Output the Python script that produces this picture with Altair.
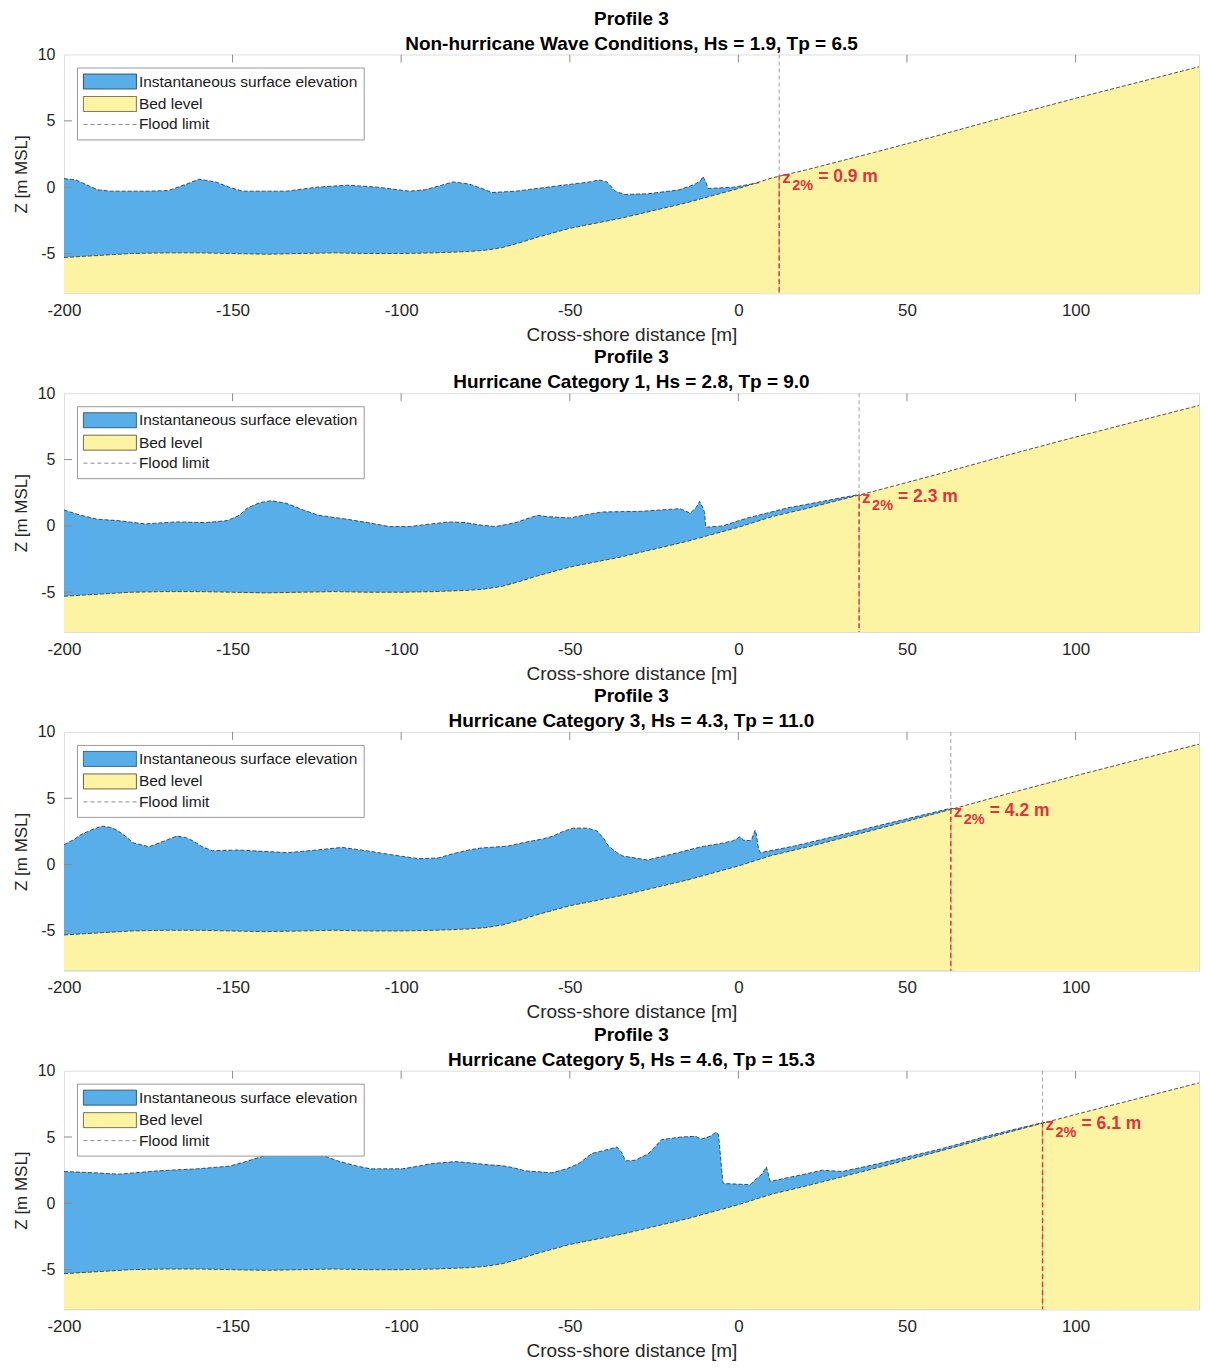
import altair as alt
import pandas as pd

FONT = "Liberation Sans"
BLUE = "#58aee9"
YELLOW = "#fcf4a3"
RED = "#e0353d"
LABEL = "#262626"

X_MIN, X_MAX = -200, 136.6
Y_MIN, Y_MAX = -8, 10
x_ticks = [-200, -150, -100, -50, 0, 50, 100]
y_ticks = [-5, 0, 5, 10]
top_tick_x = [-150, -100, -50, 0, 50, 100]
left_tick_y = [-5, 0, 5]

# bed level profile (same cross-section in every panel)
bed_x = [-200, -190, -180, -170, -160, -150, -140, -130, -120, -110, -100, -90, -80, -75, -70,
         -65, -60, -55, -50, -45, -40, -35, -30, -25, -20, -15, -10, -5, 0, 5, 10, 20, 40, 60,
         80, 100, 120, 140]
bed_z = [-5.3, -5.15, -5.0, -4.95, -4.95, -5.0, -5.05, -5.0, -4.95, -5.0, -5.0, -4.95, -4.85, -4.75,
         -4.55, -4.2, -3.8, -3.45, -3.1, -2.85, -2.6, -2.35, -2.05, -1.75, -1.45, -1.15, -0.8, -0.45,
         -0.1, 0.3, 0.7, 1.3, 2.6, 3.95, 5.35, 6.7, 8.0, 9.3]

# instantaneous surface elevation per panel
s1_x = [-200, -196.5, -190, -186, -175, -169, -164, -160, -155, -151, -147, -134, -125, -116, -107,
        -97.6, -93, -88, -84.6, -80, -76, -73, -66, -52, -44, -41.4, -39, -36.5, -33.7, -26.8,
        -17.6, -13, -11.2, -10.5, -9.5, -9, -1.5, 5.3, 6.5]
s1_z = [0.65, 0.55, -0.2, -0.3, -0.3, -0.25, 0.2, 0.6, 0.4, 0.0, -0.3, -0.3, 0.0, 0.15, 0.0,
        -0.3, -0.2, 0.15, 0.4, 0.25, -0.1, -0.4, -0.3, 0.15, 0.4, 0.55, 0.4, -0.3, -0.55, -0.5,
        -0.2, 0.2, 0.5, 0.8, 0.3, -0.1, 0.0, 0.3, 0.35]

s2_x = [-200, -195, -190, -184, -176, -166.6, -158, -151.5, -148, -145.6, -142, -138.5, -134, -129,
        -124.5, -116, -110, -103.5, -97.6, -91, -86, -81, -76, -72, -66, -62, -59.5, -56.8, -50,
        -45, -40.5, -29, -17.3, -15, -14.3, -12.5, -11.5, -10.6, -10, -9.7, -4.7, 2.7, 14.5, 25,
        30, 35.5, 36.5]
s2_z = [1.2, 0.8, 0.5, 0.4, 0.15, 0.3, 0.25, 0.4, 0.8, 1.35, 1.75, 1.9, 1.7, 1.2,
        0.8, 0.5, 0.25, -0.05, -0.05, 0.15, 0.3, 0.25, 0.05, -0.05, 0.25, 0.6, 0.8, 0.7, 0.6,
        0.85, 1.05, 1.1, 1.3, 1.05, 0.95, 1.4, 1.85, 1.4, 1.0, -0.1, 0.0, 0.6, 1.35, 1.85,
        2.1, 2.35, 2.3]

s3_x = [-200, -197, -194.7, -191, -188.8, -186, -184, -181.5, -179.6, -174.8, -170, -166.6, -164,
        -161.8, -159, -156, -148, -141, -133.7, -125, -117.5, -110.4, -103, -95, -89, -85, -80,
        -76.4, -68.3, -63.9, -57.8, -55, -52, -49, -44.8, -42, -40, -38.5, -36, -34.3, -27, -19.5,
        -11, -5, -1.5, 0.5, 1.5, 3.8, 4.5, 5, 5.4, 5.6, 6.0, 6.5, 16.6, 31.4, 45, 63, 64]
s3_z = [1.5, 1.9, 2.3, 2.7, 2.9, 2.8, 2.55, 2.1, 1.65, 1.35, 1.8, 2.15, 2.05,
        1.8, 1.35, 1.05, 1.1, 1.0, 0.9, 1.1, 1.3, 1.05, 0.75, 0.45, 0.5, 0.8, 1.1,
        1.25, 1.4, 1.65, 1.95, 2.15, 2.5, 2.75, 2.75, 2.55, 2.0, 1.4, 0.9, 0.65, 0.35, 0.8,
        1.35, 1.6, 1.8, 2.1, 1.85, 1.8, 2.3, 2.6, 2.2, 1.8, 1.2, 0.9, 1.4, 2.3, 3.15, 4.25, 4.2]

s4_x = [-200, -190.8, -183.8, -172, -160.5, -151, -146, -141.7, -136, -132.4, -126.6, -122, -118.3,
        -113, -109, -99.7, -95, -90.8, -83.8, -77.5, -74, -70.4, -67, -63.2, -55.3, -51, -47.3,
        -43.5, -40.5, -38, -36, -34.5, -33.5, -30.6, -26.6, -22.8, -16.9, -12.8, -10.9, -8.4, -6.7,
        -5.9, -4.6, -4.4, 3.5, 5.3, 7, 8.3, 8.8, 9.4, 17.75, 25, 30.8, 40, 60, 75, 90.4, 91.5]
s4_z = [2.4, 2.3, 2.2, 2.45, 2.6, 2.8, 3.15, 3.5, 3.8, 3.9, 3.8, 3.5, 3.15,
        2.8, 2.6, 2.6, 2.8, 3.0, 3.15, 3.0, 2.9, 2.85, 2.7, 2.45, 2.3, 2.6, 3.0,
        3.75, 3.95, 4.1, 4.25, 3.8, 3.2, 3.25, 3.75, 4.8, 5.0, 5.05, 4.85, 5.05, 5.35,
        5.2, 1.6, 1.5, 1.4, 1.85, 2.2, 2.75, 2.3, 1.65, 2.1, 2.5, 2.4, 2.9, 4.1, 5.15, 6.1, 6.05]

surf_x = [s1_x, s2_x, s3_x, s4_x]
surf_z = [s1_z, s2_z, s3_z, s4_z]

panel_titles = [
    "Non-hurricane Wave Conditions, Hs = 1.9, Tp = 6.5",
    "Hurricane Category 1, Hs = 2.8, Tp = 9.0",
    "Hurricane Category 3, Hs = 4.3, Tp = 11.0",
    "Hurricane Category 5, Hs = 4.6, Tp = 15.3",
]
profile_title = "Profile 3"
flood_x = [12.1, 35.8, 63.0, 90.2]
flood_z = [0.9, 2.3, 4.2, 6.1]
flood_text = ["= 0.9 m", "= 2.3 m", "= 4.2 m", "= 6.1 m"]
z_symbol = "z"
z_sub = "2%"
legend_labels = ["Instantaneous surface elevation", "Bed level", "Flood limit"]

# legend swatches: 15 px tall, ~53 px wide (symbol size 225 -> unit = 7.5 px)
RECT = "M-1,-1H6.07V1H-1Z"
LINE = "M-1,0H6.07"

bed_df = pd.DataFrame({"x": bed_x, "z": bed_z})
top_df = pd.DataFrame({"x": top_tick_x})
left_df = pd.DataFrame({"z": left_tick_y})
leg_df = pd.DataFrame({"series": legend_labels})

LABEL_EXPR = "datum.value < 0 ? '-' + abs(datum.value) : '' + datum.value"


def panel(i):
    sx = alt.Scale(domain=[X_MIN, X_MAX], nice=False, zero=False)
    sy = alt.Scale(domain=[Y_MIN, Y_MAX], nice=False, zero=False)
    xax = alt.Axis(values=x_ticks, ticks=False, domain=False, grid=False, labelFontSize=17,
                   labelColor=LABEL, labelPadding=9, titleFontSize=19, titleFontWeight="normal",
                   titleColor=LABEL, titlePadding=7, labelFlush=False, labelOverlap=False,
                   labelFont=FONT, titleFont=FONT, labelExpr=LABEL_EXPR)
    yax = alt.Axis(values=y_ticks, ticks=False, domain=False, grid=False, labelFontSize=16,
                   labelColor=LABEL, labelPadding=9, titleFontSize=17, titleFontWeight="normal",
                   titleColor=LABEL, titlePadding=7, labelFlush=False, labelOverlap=False,
                   labelFont=FONT, titleFont=FONT, labelExpr=LABEL_EXPR)
    X = alt.X("x:Q", scale=sx, axis=xax, title="Cross-shore distance [m]")
    Y = alt.Y("z:Q", scale=sy, axis=yax, title="Z [m MSL]")

    sdf = pd.DataFrame({"x": surf_x[i], "z": surf_z[i]})
    fdf = pd.DataFrame({"x": [flood_x[i]], "z": [flood_z[i]], "lab": [flood_text[i]],
                        "sym": [z_symbol], "sub": [z_sub]})

    water = alt.Chart(sdf).mark_area(color=BLUE, opacity=1, clip=True).encode(
        x=X, y=Y, y2=alt.datum(Y_MIN))
    bed = alt.Chart(bed_df).mark_area(color=YELLOW, opacity=1, clip=True).encode(
        x=X, y=Y, y2=alt.datum(Y_MIN))
    water_line = alt.Chart(sdf).mark_line(color="#24415e", strokeWidth=0.9, clip=True,
                                          strokeDash=[4, 2]).encode(x=X, y=Y)
    bed_line = alt.Chart(bed_df).mark_line(color="#3d3d3d", strokeWidth=0.9, clip=True,
                                           strokeDash=[4, 2]).encode(x=X, y=Y)
    top_ticks = alt.Chart(top_df).mark_rule(color="#8c8c8c", strokeWidth=1, clip=True).encode(
        x=X, y=alt.datum(Y_MAX), y2=alt.datum(Y_MAX - 0.6))
    left_ticks = alt.Chart(left_df).mark_rule(color="#8c8c8c", strokeWidth=1, clip=True).encode(
        y=Y, x=alt.datum(X_MIN), x2=alt.datum(X_MIN + 2.4))
    grey_rule = alt.Chart(fdf).mark_rule(color="#a0a0a0", strokeWidth=1, strokeDash=[4, 3],
                                         clip=True).encode(x=X, y=alt.datum(Y_MAX), y2=alt.datum(Y_MIN))
    red_rule = alt.Chart(fdf).mark_rule(color=RED, strokeWidth=1.4, strokeDash=[5, 3],
                                        clip=True).encode(x=X, y=Y, y2=alt.datum(Y_MIN))
    t_z = alt.Chart(fdf).mark_text(align="left", baseline="middle", dx=3, dy=3, fontSize=17,
                                   fontWeight="bold", color=RED, font=FONT).encode(x=X, y=Y, text="sym:N")
    t_sub = alt.Chart(fdf).mark_text(align="left", baseline="middle", dx=13, dy=11, fontSize=14.5,
                                     fontWeight="bold", color=RED, font=FONT).encode(x=X, y=Y, text="sub:N")
    t_lab = alt.Chart(fdf).mark_text(align="left", baseline="middle", dx=39, dy=2, fontSize=17.5,
                                     fontWeight="bold", color=RED, font=FONT).encode(x=X, y=Y, text="lab:N")

    leg = alt.Legend(orient="none", legendX=13, legendY=13, title=None, labelFontSize=15.5,
                     labelColor="#1a1a1a", labelFont=FONT, fillColor="white", strokeColor="#9a9a9a",
                     padding=6, rowPadding=2.5, labelOffset=40, symbolSize=225, symbolStrokeWidth=1,
                     cornerRadius=0, labelLimit=400)
    legend_layer = alt.Chart(leg_df).mark_point(filled=True, size=225, clip=True, opacity=1).encode(
        x=alt.datum(X_MIN - 100), y=alt.datum(0),
        fill=alt.Fill("series:N", scale=alt.Scale(domain=legend_labels,
                                                  range=[BLUE, YELLOW, "rgba(0,0,0,0)"]), legend=leg),
        stroke=alt.Stroke("series:N", scale=alt.Scale(domain=legend_labels,
                                                      range=["#2c4a66", "#5a5638", "#8a8a8a"]), legend=leg),
        shape=alt.Shape("series:N", scale=alt.Scale(domain=legend_labels, range=[RECT, RECT, LINE]),
                        legend=leg),
        strokeDash=alt.StrokeDash("series:N", scale=alt.Scale(domain=legend_labels,
                                                              range=[[1, 0], [1, 0], [4, 3]]), legend=leg),
    )

    return alt.layer(water, bed, water_line, bed_line, grey_rule, red_rule, top_ticks, left_ticks,
                     t_z, t_sub, t_lab, legend_layer).properties(
        width=1136, height=239,
        title=alt.TitleParams(text=[profile_title, panel_titles[i]], fontSize=19, fontWeight="bold",
                              anchor="middle", offset=-7, lineHeight=25, color="black", font=FONT),
    )


chart = alt.vconcat(*[panel(i) for i in range(4)], spacing=2).resolve_scale(
    fill="independent", stroke="independent", shape="independent", strokeDash="independent"
).resolve_legend(
    fill="independent", stroke="independent", shape="independent", strokeDash="independent"
).properties(
    padding={"left": 3, "top": 0, "right": 0, "bottom": 0}
).configure_view(stroke="#a6a6a6", strokeWidth=1, strokeDash=[2, 2]).configure(font=FONT)

chart.save("out.html", embed_options={"renderer": "svg", "actions": False})
